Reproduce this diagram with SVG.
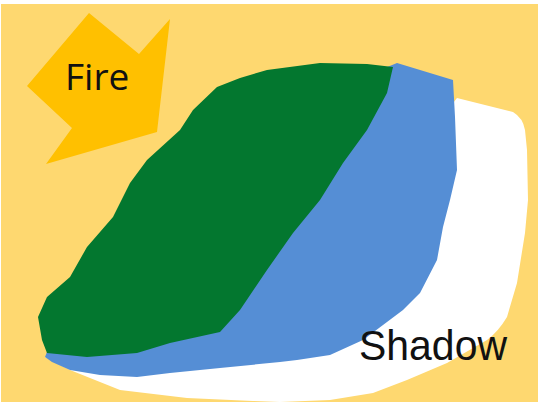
<svg xmlns="http://www.w3.org/2000/svg" width="538" height="402" viewBox="0 0 538 402">
<style>
.lbl{fill:#111111}
</style>
<rect x="0" y="0" width="538" height="402" fill="#ffffff"/>
<rect id="background" x="1" y="4" width="537" height="398" fill="#FED870"/>
<g id="fire">
<polygon points="89,13 139,54 170,19 157,132 46,164 72,128 27,86" fill="#FFC000"/>
<text class="lbl" x="65" y="90" font-family="'Open Sans', 'Noto Sans', sans-serif" font-size="37">Fire</text>
</g>
<g id="shadow-area">
<path d="M457,98 L513,112 Q523,118 525,130 L527,150 L528,200 L525,233 L517,283 L507,317 Q498,332 487,340 L447,363 L407,380 L373,393 L330,400 L280,402 L253,401 L187,398 L120,390 L70,370 L45,357 L300,300 L440,120 Z" fill="#FFFFFF"/>
</g>
<g id="blue-zone">
<path d="M397,63 L453,80 L455,117 L457,170 L450,200 L443,227 L437,260 L420,293 L403,310 L363,340 L330,355 L297,360 L280,362 L220,368 L170,373 L137,377 L100,375 L70,370 L52,362 L45,357 L47,352 L200,300 L380,70 Z" fill="#558ED5"/>
</g>
<g id="green-zone">
<path d="M393,67 L387,93 L367,130 L343,163 L320,200 L293,233 L267,270 L240,310 L220,332 L170,343 L137,353 L87,357 L47,353 L42,340 L38,317 L47,297 L70,277 L87,247 L113,217 L130,183 L147,160 L180,130 L193,110 L217,87 L240,78 L267,70 L320,63 L367,64 Z" fill="#03772F"/>
</g>
<g id="shadow-label">
<text class="lbl" x="359" y="360" font-family="'Liberation Sans', Arial, sans-serif" font-size="42" textLength="148" lengthAdjust="spacingAndGlyphs">Shadow</text>
</g>
</svg>
